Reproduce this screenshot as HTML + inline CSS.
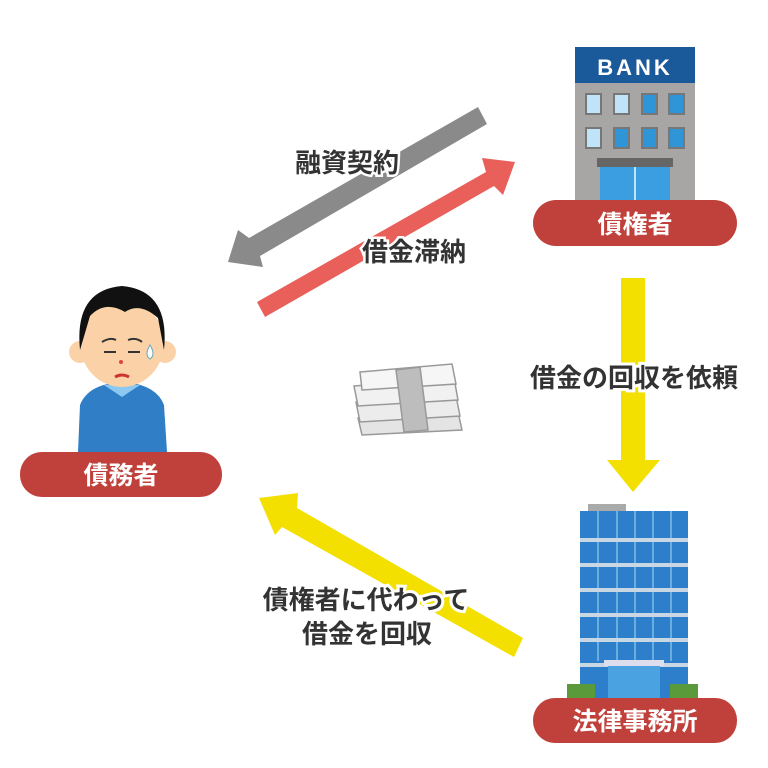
<!DOCTYPE html>
<html><head><meta charset="utf-8"><style>
html,body{margin:0;padding:0;background:#fff;}
svg{display:block}
text{font-family:"Liberation Sans","Noto Sans CJK JP",sans-serif;font-weight:bold;}
</style></head><body>
<svg width="768" height="768" viewBox="0 0 768 768" xmlns="http://www.w3.org/2000/svg">
<!-- gray arrow -->
<polygon points="478,107 487,124 260,256 263,267 228,262 238,230 249,238" fill="#8a8a8a"/>
<!-- red arrow -->
<polygon points="257,302 486,172 482,158 515,162 503,195 494,186 265,317" fill="#e9605a"/>
<text x="295" y="172" font-size="26" fill="#333" stroke="#fff" stroke-width="5" paint-order="stroke">融資契約</text>
<text x="362" y="261" font-size="26" fill="#333" stroke="#fff" stroke-width="5" paint-order="stroke">借金滞納</text>
<!-- vertical yellow arrow -->
<polygon points="621,278 645,278 645,460 660,460 633,492 607,460 621,460" fill="#f3e000"/>
<text x="634" y="387" font-size="26" fill="#333" text-anchor="middle" stroke="#fff" stroke-width="6" paint-order="stroke">借金の回収を依頼</text>
<!-- diagonal yellow arrow -->
<polygon points="523,638 514,657 282,527 275,535 259,498 298,493 297,508" fill="#f3e000"/>
<text x="366" y="609" font-size="26" fill="#333" text-anchor="middle" stroke="#fff" stroke-width="6" paint-order="stroke">債権者に代わって</text>
<text x="367" y="643" font-size="26" fill="#333" text-anchor="middle" stroke="#fff" stroke-width="6" paint-order="stroke">借金を回収</text>
<!-- money -->
<g stroke="#999" stroke-width="1.5">
<path d="M358,418 L458,412 L462,430 L362,435 Z" fill="#e4e4e4"/>
<path d="M356,402 L456,396 L460,416 L360,422 Z" fill="#ececec"/>
<path d="M354,386 L454,378 L458,400 L358,406 Z" fill="#f1f1f1"/>
<path d="M360,372 L452,364 L456,384 L362,390 Z" fill="#f6f6f6"/>
<path d="M396,370 L420,367 L428,430 L404,432 Z" fill="#bdbdbd"/>
</g>
<!-- bank -->
<rect x="575" y="47" width="120" height="36" fill="#1b5a9a"/>
<text x="635" y="75" font-size="22" fill="#fff" text-anchor="middle" letter-spacing="3">BANK</text>
<rect x="575" y="83" width="120" height="125" fill="#a8a6a4"/>
<g fill="#2f95d6" stroke="#777" stroke-width="2">
<rect x="586" y="94" width="15" height="20" fill="#bfe3f7"/><rect x="614" y="94" width="15" height="20" fill="#bfe3f7"/><rect x="642" y="94" width="15" height="20"/><rect x="669" y="94" width="15" height="20"/>
<rect x="586" y="128" width="15" height="20" fill="#bfe3f7"/><rect x="614" y="128" width="15" height="20"/><rect x="642" y="128" width="15" height="20"/><rect x="669" y="128" width="15" height="20"/>
</g>
<rect x="597" y="158" width="76" height="9" fill="#666"/>
<rect x="600" y="167" width="70" height="40" fill="#3a9ee0"/>
<rect x="634" y="167" width="2" height="40" fill="#bfe3f7"/>
<!-- law building -->
<rect x="588" y="504" width="38" height="8" fill="#aaa"/>
<rect x="580" y="511" width="108" height="190" fill="#2d7fcc"/>
<g fill="#6aaee0">
<rect x="597" y="511" width="2" height="150"/><rect x="616" y="511" width="2" height="150"/><rect x="634" y="511" width="2" height="150"/><rect x="652" y="511" width="2" height="150"/><rect x="670" y="511" width="2" height="150"/>
</g>
<g fill="#c9d6e3">
<rect x="580" y="538" width="108" height="4"/><rect x="580" y="563" width="108" height="4"/><rect x="580" y="588" width="108" height="4"/><rect x="580" y="613" width="108" height="4"/><rect x="580" y="638" width="108" height="4"/><rect x="580" y="663" width="108" height="4"/>
</g>
<rect x="604" y="660" width="60" height="6" fill="#dde"/>
<rect x="608" y="666" width="52" height="34" fill="#4aa3e0"/>
<rect x="567" y="684" width="28" height="14" fill="#5a9a3a"/><rect x="670" y="684" width="28" height="14" fill="#5a9a3a"/>
<!-- person -->
<path d="M78,452 L80,405 Q88,384 122,382 Q156,384 164,405 L167,452 Z" fill="#2f7ec6"/>
<path d="M104,385 L122,397 L140,385 Z" fill="#8cc8ef"/>
<circle cx="80" cy="352" r="11" fill="#fbd2a8"/><circle cx="165" cy="352" r="11" fill="#fbd2a8"/>
<ellipse cx="122" cy="343" rx="42" ry="44" fill="#fbd2a8"/>
<path d="M80,350 Q74,290 122,286 Q170,290 164,350 L158,318 Q140,302 125,312 Q105,300 90,316 Z" fill="#111"/>
<path d="M102,342 q8,-5 14,-2 M128,340 q8,-3 14,2" stroke="#333" stroke-width="2" fill="none"/>
<path d="M104,352 l12,0 M128,352 l12,0" stroke="#333" stroke-width="2"/>
<circle cx="121" cy="362" r="2" fill="#d44"/>
<path d="M115,377 q7,-4 14,0" stroke="#c33" stroke-width="3" fill="none"/>
<path d="M150,345 q-6,10 0,14 q6,-4 0,-14z" fill="#fff" stroke="#6ab" stroke-width="1"/>
<!-- pills -->
<rect x="533" y="200" width="204" height="46" rx="23" fill="#c0413b"/>
<text x="635" y="233" font-size="25" fill="#fff" text-anchor="middle">債権者</text>
<rect x="20" y="452" width="202" height="45" rx="22" fill="#c0413b"/>
<text x="121" y="484" font-size="25" fill="#fff" text-anchor="middle">債務者</text>
<rect x="533" y="698" width="204" height="45" rx="22" fill="#c0413b"/>
<text x="635" y="730" font-size="25" fill="#fff" text-anchor="middle">法律事務所</text>
</svg>
</body></html>
